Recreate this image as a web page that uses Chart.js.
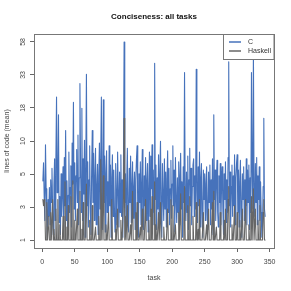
<!DOCTYPE html>
<html>
<head>
<meta charset="utf-8">
<script src="https://cdn.jsdelivr.net/npm/chart.js@4.4.1/dist/chart.umd.min.js"></script>
<style>
  html, body { margin: 0; padding: 0; background: #fff; }
  #wrap { width: 291px; height: 291px; }
</style>
</head>
<body>
<div id="wrap"><canvas id="chart" width="291" height="291"></canvas></div>
<script>
// mean lines of code per task, one entry per task (1..343)
const cLines = [
  4.5, 6.5, 3.2, 1.8, 9.2, 3.8, 2.1, 1.1, 3.0, 2.0,
  3.9, 1.6, 4.6, 2.8, 5.8, 2.4, 1.2, 4.1, 7.0, 1.8,
  6.8, 22, 3.5, 4.0, 16, 1.7, 3.2, 1.2, 5.2, 2.0,
  3.4, 6.0, 1.5, 7.2, 2.6, 12, 1.8, 4.5, 1.2, 3.3,
  8.0, 2.2, 3.9, 6.1, 1.5, 9.5, 4.2, 20, 2.4, 6.5,
  1.8, 5.0, 8.4, 2.8, 11, 1.6, 4.8, 28, 6.0, 2.2,
  18, 1.8, 7.0, 3.4, 10, 1.1, 5.6, 33, 2.6, 6.6,
  1.5, 4.6, 9.0, 2.2, 1.2, 5.4, 12, 2.8, 7.8, 1.8,
  4.9, 8.6, 1.6, 3.8, 6.3, 1.2, 5.0, 9.5, 2.4, 6.8,
  22, 3.2, 1.4, 21, 2.8, 7.4, 1.3, 5.2, 8.2, 2.2,
  4.4, 1.8, 9.0, 2.6, 6.2, 1.1, 4.8, 7.6, 2.0, 5.6,
  2.6, 1.3, 6.4, 3.2, 1.6, 8.0, 3.6, 1.5, 5.4, 2.2,
  7.6, 2.0, 4.6, 1.1, 6.0, 58, 2.8, 5.2, 1.5, 4.4,
  8.6, 2.2, 1.3, 5.8, 2.8, 7.4, 1.7, 4.0, 6.6, 1.9,
  3.8, 5.4, 1.4, 4.6, 7.0, 9.0, 2.4, 1.1, 5.2, 2.8,
  6.6, 1.6, 4.2, 8.4, 2.2, 1.4, 5.0, 2.6, 7.2, 1.8,
  4.4, 6.4, 1.3, 3.6, 8.0, 2.0, 7.4, 3.8, 9.2, 2.2,
  5.6, 1.6, 40, 3.0, 6.2, 1.4, 4.8, 2.4, 7.6, 1.7,
  5.2, 9.8, 2.6, 1.1, 6.4, 3.2, 1.8, 7.0, 2.4, 5.4,
  1.5, 4.6, 8.2, 2.2, 5.8, 1.6, 3.8, 6.8, 1.9, 4.2,
  9.0, 2.6, 5.6, 1.3, 7.2, 3.0, 1.7, 4.8, 2.2, 6.6,
  1.6, 5.0, 7.8, 2.4, 4.4, 1.1, 6.0, 2.8, 34, 3.4,
  1.8, 5.4, 2.2, 7.4, 1.4, 4.6, 8.6, 2.6, 5.8, 1.6,
  4.0, 6.2, 7.0, 2.0, 5.0, 2.4, 36, 3.6, 1.7, 6.0,
  2.6, 8.0, 1.5, 4.8, 6.4, 2.2, 1.1, 5.6, 3.0, 5.2,
  1.8, 4.2, 6.0, 2.2, 1.4, 5.4, 2.8, 6.2, 1.6, 4.6,
  2.4, 7.0, 1.2, 16, 3.0, 5.6, 1.8, 4.4, 6.8, 2.2,
  1.5, 5.0, 2.8, 6.4, 1.6, 4.2, 6.0, 2.4, 1.2, 5.2,
  3.0, 6.6, 1.7, 4.6, 2.2, 7.2, 41, 2.6, 5.4, 1.5,
  4.0, 6.2, 2.0, 5.0, 2.6, 7.6, 1.6, 4.8, 6.4, 7.6,
  2.2, 5.6, 1.5, 4.4, 6.8, 2.4, 1.1, 5.2, 3.0, 6.0,
  1.8, 4.6, 2.6, 7.0, 1.6, 5.6, 2.8, 6.2, 1.4, 4.8,
  2.2, 34, 5.4, 2.4, 50, 3.2, 2.0, 6.4, 2.8, 7.2,
  1.6, 5.0, 3.0, 6.0, 1.8, 4.4, 2.2, 1.1, 1.6, 4.0,
  15, 2.4, 2.0
];
const haskellLines = [
  3, 2.6, 3, 2.4, 1, 1, 2.8, 1, 1.5, 2,
  1, 1, 2.2, 1, 1, 3, 1, 1.4, 1, 1,
  2.4, 1, 1, 3, 1, 1, 1.6, 1, 1, 1,
  1, 2, 1, 1, 4.4, 1, 1, 1.5, 1, 2.6,
  1, 1, 1, 3.2, 1, 1, 4.5, 1, 1, 1.8,
  1, 1, 1, 2.4, 1, 1, 1, 3.6, 1, 1,
  1.4, 1, 2.8, 1, 1, 1, 1, 4.2, 1, 1,
  1, 1, 1.8, 1, 1, 1, 2.6, 1, 1, 1,
  1, 1.5, 1, 1, 1, 1, 2, 1, 1, 6.9,
  3.4, 1, 1, 5.0, 1, 1, 1, 1.6, 1, 1,
  1, 2.2, 1, 1, 1, 1, 3.0, 1, 1, 1,
  1, 1, 1.4, 1, 1, 2.4, 1, 1, 1, 1,
  1.8, 1, 1, 1, 3.2, 15, 1, 2.0, 1, 1,
  2.6, 1, 1, 1, 1, 1.6, 1, 1, 3.6, 1,
  1, 1, 1, 2.2, 1, 2.8, 1, 1, 1, 1,
  1.5, 1, 1, 2.4, 1, 1, 1, 1, 3, 1,
  1, 1, 1, 1.8, 1, 1, 2.4, 1, 3.2, 1,
  1, 1, 4.4, 1, 1.6, 1, 1, 1, 2.2, 1,
  1, 2.8, 1, 1, 1, 1, 1.5, 1, 1, 1,
  1, 1, 2.4, 1, 1, 1, 1, 3.0, 1, 1,
  2.6, 1, 1, 1, 1.6, 1, 1, 1, 1, 2.2,
  1, 1, 3.4, 1, 1, 1, 1, 1.8, 4.0, 1,
  1, 1, 1, 2.6, 1, 1, 3.2, 1, 1, 1,
  1, 2.0, 1, 1, 1, 1, 2.8, 1, 1, 1.4,
  1, 3.0, 1, 1, 1, 1, 1, 2.2, 1, 1,
  1, 1, 1.6, 1, 1, 2.4, 1, 1, 1, 1,
  1, 2.8, 1, 3.6, 1, 1, 1, 1.5, 1, 1,
  1, 1, 1, 2.2, 1, 1, 1, 1, 1, 1.8,
  1, 2.4, 1, 1, 1, 3.0, 4.0, 1, 1, 1,
  1, 1.6, 1, 1, 1, 2.6, 1, 1, 1, 2.2,
  1, 1, 1, 1.8, 1, 1, 1, 2.4, 1, 1,
  1, 1, 3.0, 1, 1, 1, 1, 1.6, 1, 1,
  2.0, 3.2, 1, 1, 3.8, 1, 1, 2.4, 1, 1,
  1, 1.8, 1, 1, 2.6, 1, 1, 1, 1, 2.2,
  3.0, 1, 1
];
const tasks = cLines.map((v, i) => i + 1);
const xTicks = [0, 50, 100, 150, 200, 250, 300, 350];
// labels sit on evenly spaced log(1+y) positions, rounded like the original
const yTickLabels = ['1', '3', '5', '10', '18', '33', '58'];
const seriesNames = ['C', 'Haskell'];
const seriesColors = ['#4672bb', '#666666'];

// y axis on a log(1 + y) scale, padded 4% like R
class Log1pScale extends Chart.LinearScale {
  static id = 'log1p';
  determineDataLimits() {
    super.determineDataLimits();
    this.dataLo = Math.log1p(this.min);
    this.dataHi = Math.log1p(this.max);
    const pad = (this.dataHi - this.dataLo) * 0.04;
    this.min = this.dataLo - pad;
    this.max = this.dataHi + pad;
  }
  buildTicks() {
    const n = yTickLabels.length - 1;
    const step = (this.dataHi - this.dataLo) / n;
    return yTickLabels.map((l, i) => ({value: Math.expm1(this.dataLo + i * step)}));
  }
  getPixelForValue(v) {
    return super.getPixelForValue(Math.log1p(v));
  }
  getValueForPixel(p) {
    return Math.expm1(super.getValueForPixel(p));
  }
}
Chart.register(Log1pScale);

const frame = {
  id: 'frame',
  afterDraw(chart) {
    const {ctx, chartArea: a} = chart;
    ctx.save();
    ctx.strokeStyle = '#777';
    ctx.lineWidth = 1;
    ctx.strokeRect(Math.round(a.left) + 0.5, Math.round(a.top) + 0.5,
      Math.round(a.right - a.left), Math.round(a.bottom - a.top));

    // legend box, top right inside the plot
    const bx = 223.5, by = a.top + 0.5, bw = a.right - 223.5, bh = 25;
    ctx.fillStyle = '#fff';
    ctx.fillRect(bx, by, bw, bh);
    ctx.strokeRect(bx, by, bw, bh);
    ctx.font = '7px "Liberation Sans", Arial, sans-serif';
    ctx.textBaseline = 'middle';
    ctx.textAlign = 'left';
    seriesNames.forEach((name, i) => {
      const y = by + 7.5 + i * 9;
      ctx.strokeStyle = seriesColors[i];
      ctx.lineWidth = 1.5;
      ctx.beginPath();
      ctx.moveTo(229, y);
      ctx.lineTo(241, y);
      ctx.stroke();
      ctx.fillStyle = '#333';
      ctx.fillText(name, 248, y);
    });
    ctx.restore();
  }
};

Chart.defaults.font.family = '"Liberation Sans", Arial, sans-serif';
Chart.defaults.color = '#444';

new Chart(document.getElementById('chart'), {
  type: 'line',
  data: {
    labels: tasks,
    datasets: [
      {label: seriesNames[0], data: cLines, borderColor: seriesColors[0], order: 1},
      {label: seriesNames[1], data: haskellLines, borderColor: seriesColors[1], order: 0}
    ].map(d => Object.assign(d, {
      borderWidth: 1.1, pointRadius: 0, tension: 0, fill: false,
      borderJoinStyle: 'round', borderCapStyle: 'round'
    }))
  },
  options: {
    responsive: false,
    animation: false,
    events: [],
    layout: {padding: {left: 0, right: 17, top: 0, bottom: 0}},
    plugins: {
      legend: {display: false},
      tooltip: {enabled: false},
      title: {
        display: true,
        fullSize: false,
        text: 'Conciseness: all tasks',
        color: '#111',
        font: {size: 8, weight: 'bold'},
        padding: {top: 12, bottom: 12.4}
      }
    },
    scales: {
      x: {
        type: 'linear',
        min: 1 - 0.04 * (tasks.length - 1),
        max: tasks.length + 0.04 * (tasks.length - 1),
        afterBuildTicks: s => { s.ticks = xTicks.map(v => ({value: v})); },
        afterFit: s => { s.height = 43; },
        border: {display: false},
        grid: {drawOnChartArea: false, drawTicks: true, tickLength: 4, color: '#666'},
        ticks: {font: {size: 7}, padding: 6, maxRotation: 0, autoSkip: false},
        title: {display: true, text: 'task', font: {size: 7}, padding: {top: 0, bottom: 9}}
      },
      y: {
        type: 'log1p',
        afterFit: s => { s.width = 34; },
        border: {display: false},
        grid: {drawOnChartArea: false, drawTicks: true, tickLength: 4, color: '#666'},
        ticks: {
          font: {size: 7}, padding: 3, minRotation: 90, maxRotation: 90,
          crossAlign: 'center', autoSkip: false,
          callback: (v, i) => yTickLabels[i]
        },
        title: {display: true, text: 'lines of code (mean)', font: {size: 7}, padding: {top: 3, bottom: 0}}
      }
    }
  },
  plugins: [frame]
});
</script>
</body>
</html>
